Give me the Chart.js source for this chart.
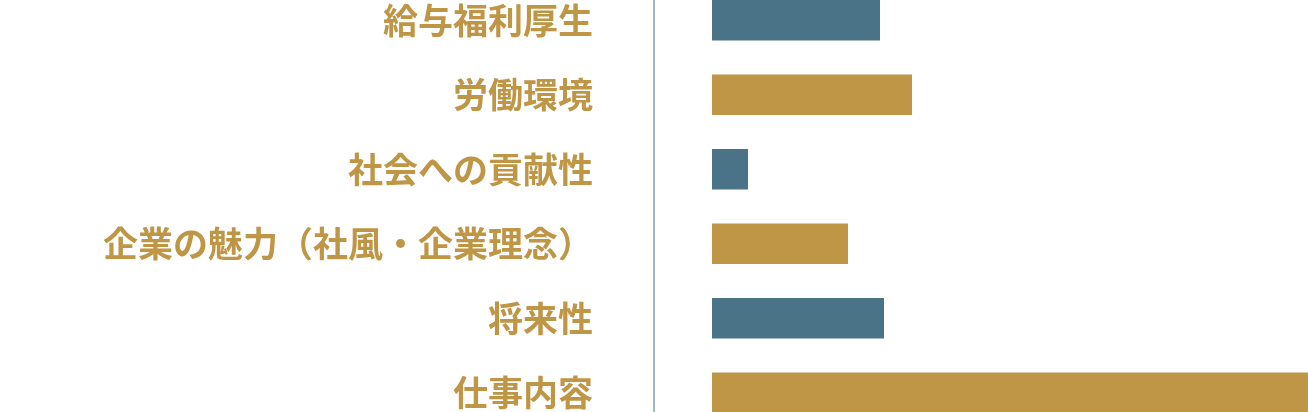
<!DOCTYPE html>
<html>
<head>
<meta charset="utf-8">
<script src="https://cdn.jsdelivr.net/npm/chart.js@4"></script>
<style>
  html, body { margin: 0; padding: 0; background: #fff; overflow: hidden; }
  #wrap { position: relative; width: 1308px; height: 412px; overflow: hidden; }
  #box { position: absolute; left: 0; top: -17px; width: 1308px; height: 447px; }
</style>
</head>
<body>
<div id="wrap"><div id="box"><canvas id="myChart"></canvas></div></div>
<script>
// 項目と値
const labels = ['給与福利厚生', '労働環境', '社会への貢献性', '企業の魅力（社風・企業理念）', '将来性', '仕事内容'];
const values = [42, 50, 9, 34, 43, 155];
const barColors = ['#4b7387', '#bf9645', '#4b7387', '#bf9645', '#4b7387', '#bf9645'];

const ctx = document.getElementById('myChart').getContext('2d');

const myChart = new Chart(ctx, {
    type: 'bar',
    data: {
        labels: labels,
        datasets: [{
            data: values,
            backgroundColor: barColors,
            borderWidth: 0,
            barPercentage: 0.545,
            categoryPercentage: 1,
        }],
    },
    options: {
        indexAxis: 'y',
        responsive: true,
        maintainAspectRatio: false,
        animation: false,
        layout: { padding: 0 },
        plugins: {
            legend: { display: false },
            tooltip: { enabled: false },
        },
        scales: {
            x: {
                display: false,
                min: -14.5,
                max: 149,
            },
            y: {
                // 軸の位置を固定し、上下の余白をなくす
                afterFit: function (scale) {
                    scale.width = 654;
                    scale.paddingTop = 0;
                    scale.paddingBottom = 0;
                },
                grid: { display: false, drawTicks: false },
                border: { display: true, color: '#a4b8c4', width: 2 },
                ticks: {
                    padding: 61,
                    color: '#bf9645',
                    font: { family: '"Noto Sans CJK JP"', size: 35, weight: 'bold' },
                },
            },
        },
    },
});
</script>
</body>
</html>
